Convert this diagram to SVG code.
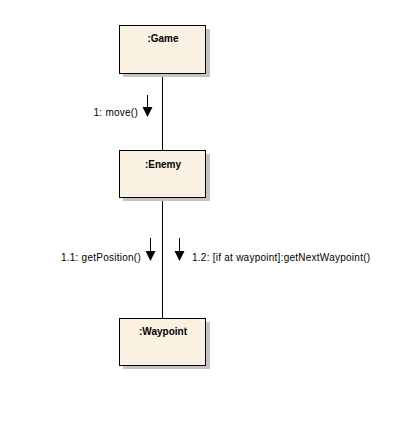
<svg xmlns="http://www.w3.org/2000/svg" width="418" height="439" viewBox="0 0 418 439">
<defs>
<style>
.box{fill:#fbf1e3;stroke:#000;stroke-width:1}
.shadow{fill:#c4c4c4}
.name{font-family:"Liberation Sans",Arial,sans-serif;font-size:10px;font-weight:bold;text-anchor:middle;fill:#000}
.lbl{font-family:"Liberation Sans",Arial,sans-serif;font-size:10px;letter-spacing:0.25px;fill:#000}
.conn{stroke:#000;stroke-width:1;fill:none}
.msg{stroke:#000;stroke-width:1;fill:none}
.head{fill:#000}
</style>
</defs>
<rect width="418" height="439" fill="#fff"/>
<g id="connectors">
<line class="conn" x1="162.5" y1="73" x2="162.5" y2="150"/>
<line class="conn" x1="162.5" y1="197" x2="162.5" y2="318"/>
<g id="msg1">
<line class="msg" x1="147.5" y1="95" x2="147.5" y2="110"/>
<polygon class="head" points="142.5,107 152.5,107 147.5,117"/>
<text class="lbl" x="138" y="116" text-anchor="end">1: move()</text>
</g>
<g id="msg11">
<line class="msg" x1="150.5" y1="238" x2="150.5" y2="254"/>
<polygon class="head" points="145.5,251 155.5,251 150.5,261"/>
<text class="lbl" x="141" y="261" text-anchor="end">1.1: getPosition()</text>
</g>
<g id="msg12">
<line class="msg" x1="179.5" y1="238" x2="179.5" y2="254"/>
<polygon class="head" points="174.5,251 184.5,251 179.5,261"/>
<text class="lbl" x="192" y="261">1.2: [if at waypoint]:getNextWaypoint()</text>
</g>
</g>
<g id="game">
<rect class="shadow" x="123" y="29" width="87" height="48"/>
<rect class="box" x="119.5" y="25.5" width="86" height="48"/>
<text class="name" x="163" y="42">:Game</text>
</g>
<g id="enemy">
<rect class="shadow" x="123" y="154" width="87" height="47"/>
<rect class="box" x="119.5" y="150.5" width="86" height="47"/>
<text class="name" x="163" y="168">:Enemy</text>
</g>
<g id="waypoint">
<rect class="shadow" x="123" y="322" width="87" height="47"/>
<rect class="box" x="119.5" y="318.5" width="86" height="47"/>
<text class="name" x="163" y="335">:Waypoint</text>
</g>
</svg>
